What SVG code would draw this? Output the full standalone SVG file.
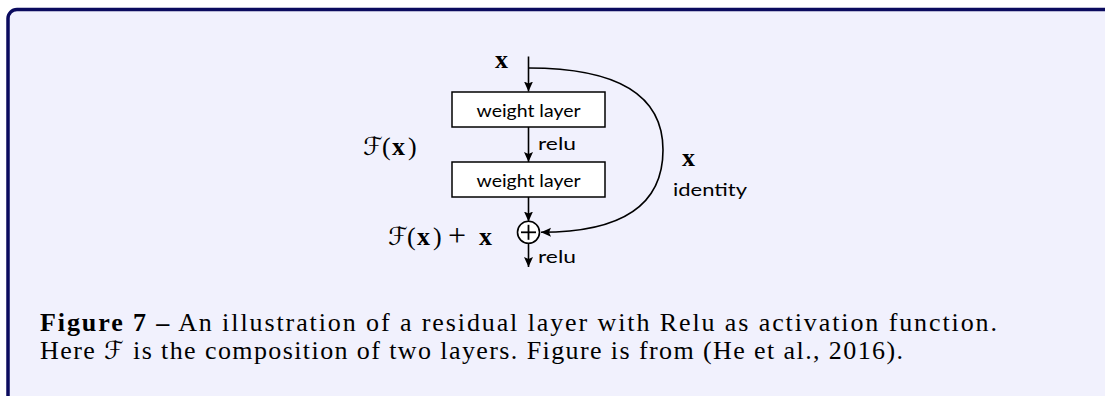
<svg xmlns="http://www.w3.org/2000/svg" width="1105" height="396" viewBox="0 0 1105 396">
  <defs>
    <marker id="arrow" viewBox="0 0 10 10" refX="10" refY="5" markerWidth="10" markerHeight="10" markerUnits="userSpaceOnUse" orient="auto">
      <path d="M0,0.5 L10,5 L0,9.5 L2,5 z" fill="#000"/>
    </marker>
  </defs>
  <style>
    .frame { fill: #F1F1FD; stroke: #0B0B5E; stroke-width: 3.5; }
    .box { fill: #FFFFFF; stroke: #000; stroke-width: 1.5; }
    .conn { fill: none; stroke: #000; stroke-width: 1.6; }
    .sans { font-family: "Lato", "Open Sans", "Liberation Sans", sans-serif; font-size: 17.5px; fill: #000; }
    .math { font-family: "Liberation Serif", "DejaVu Serif", serif; font-size: 26px; fill: #000; }
    .plus { font-family: "Liberation Serif", "DejaVu Serif", serif; font-size: 32px; fill: #000; }
    .bx { font-family: "Liberation Serif", "DejaVu Serif", serif; font-weight: bold; font-size: 26px; fill: #000; }
    .cal { font-family: "DejaVu Serif", "DejaVu Sans", serif; font-style: italic; font-weight: normal; font-size: 25px; fill: #000; }
    .cap { font-family: "Liberation Serif", "DejaVu Serif", serif; font-size: 26px; fill: #000; }
  </style>

  <rect class="frame" x="8" y="9.5" width="1120" height="410" rx="9" ry="9"/>

  <g id="connectors">
    <line class="conn" x1="528.5" y1="56.5" x2="528.5" y2="91.5" marker-end="url(#arrow)"/>
    <line class="conn" x1="528.5" y1="127" x2="528.5" y2="162" marker-end="url(#arrow)"/>
    <line class="conn" x1="528.5" y1="197" x2="528.5" y2="221.5" marker-end="url(#arrow)"/>
    <line class="conn" x1="528.5" y1="243.5" x2="528.5" y2="267" marker-end="url(#arrow)"/>
    <path class="conn" d="M528.5,68 C612,68 663,92 663,150 C663,212 612,232.3 541,232.3" marker-end="url(#arrow)"/>
  </g>

  <g id="input-x">
    <text class="bx" x="495" y="68">x</text>
  </g>

  <g id="weight-layer-1">
    <rect class="box" x="452" y="92" width="153" height="35"/>
    <text class="sans" x="528.5" y="116.5" text-anchor="middle" textLength="104" lengthAdjust="spacingAndGlyphs">weight layer</text>
  </g>

  <g id="relu-1">
    <text class="sans" x="538" y="149.5" textLength="38" lengthAdjust="spacingAndGlyphs">relu</text>
  </g>

  <g id="weight-layer-2">
    <rect class="box" x="452" y="162" width="153" height="35"/>
    <text class="sans" x="528.5" y="186.5" text-anchor="middle" textLength="104" lengthAdjust="spacingAndGlyphs">weight layer</text>
  </g>

  <g id="sum">
    <circle cx="528.5" cy="232.3" r="11" fill="#FFFFFF" stroke="#000" stroke-width="1.6"/>
    <line x1="521" y1="232.3" x2="536" y2="232.3" stroke="#000" stroke-width="1.8"/>
    <line x1="528.5" y1="224.8" x2="528.5" y2="239.8" stroke="#000" stroke-width="1.8"/>
  </g>

  <g id="relu-2">
    <text class="sans" x="538" y="262.5" textLength="38" lengthAdjust="spacingAndGlyphs">relu</text>
  </g>

  <g id="label-Fx">
    <text class="cal" x="363" y="155">ℱ</text>
    <text class="math" x="382" y="155">(</text>
    <text class="bx" x="392" y="155">x</text>
    <text class="math" x="408" y="155">)</text>
  </g>

  <g id="label-Fx-plus-x">
    <text class="cal" x="388" y="245">ℱ</text>
    <text class="math" x="407" y="245">(</text>
    <text class="bx" x="417" y="245">x</text>
    <text class="math" x="433" y="245">)</text>
    <text class="plus" x="448" y="246">+</text>
    <text class="bx" x="479" y="245">x</text>
  </g>

  <g id="label-identity">
    <text class="bx" x="682" y="166">x</text>
    <text class="sans" x="673" y="196" textLength="74" lengthAdjust="spacingAndGlyphs">identity</text>
  </g>

  <g id="caption">
    <text class="cap" x="40" y="331" textLength="957" lengthAdjust="spacing"><tspan font-weight="bold">Figure 7 –</tspan> An illustration of a residual layer with Relu as activation function.</text>
    <text class="cap" x="40" y="359" textLength="863" lengthAdjust="spacing">Here <tspan class="cal" font-size="24px">ℱ</tspan> is the composition of two layers. Figure is from (He et al., 2016).</text>
  </g>
</svg>
